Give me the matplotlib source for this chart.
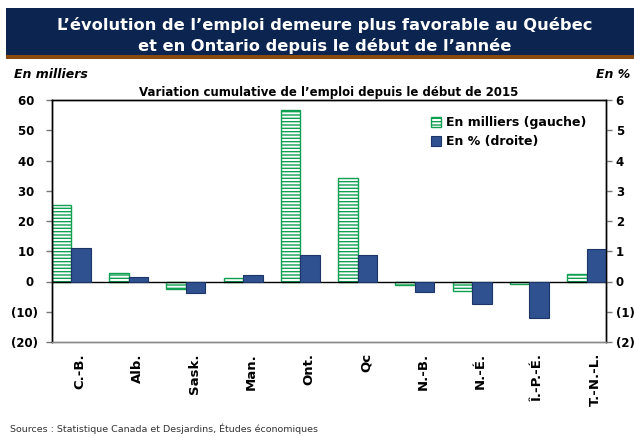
import numpy as np
import matplotlib
matplotlib.use("Agg")
import matplotlib.pyplot as plt
from matplotlib.patches import Rectangle
from matplotlib.ticker import FuncFormatter

plt.rcParams['font.family'] = ['DejaVu Sans']
plt.rcParams['hatch.linewidth'] = 1.0

# data
provinces = ["C.-B.", "Alb.", "Sask.", "Man.", "Ont.", "Qc", "N.-B.", "N.-É.", "Î.-P.-É.", "T.-N.-L."]
milliers = [25.2, 2.7, -2.4, 1.3, 56.8, 34.2, -1.2, -3.1, -0.8, 2.5]
pourcent = [1.12, 0.14, -0.38, 0.20, 0.86, 0.86, -0.34, -0.74, -1.22, 1.06]

green = "#11a052"
navy = "#2f5190"
navy_edge = "#1c3566"

W, H = 634, 436
fig = plt.figure(figsize=(W/100, H/100), dpi=100)

# title banner
fig.patches.append(Rectangle((6/W, 1-55/H), 1, 47/H, transform=fig.transFigure,
                             facecolor="#0c2550", edgecolor="none"))
fig.patches.append(Rectangle((6/W, 1-59/H), 1, 4/H, transform=fig.transFigure,
                             facecolor="#8a4a0e", edgecolor="none"))
fig.text(325/W, 1-30/H, "L’évolution de l’emploi demeure plus favorable au Québec",
         color="white", fontsize=11.7, fontweight="bold", ha="center", va="baseline")
fig.text(325/W, 1-51/H, "et en Ontario depuis le début de l’année",
         color="white", fontsize=11.7, fontweight="bold", ha="center", va="baseline")

fig.text(14/W, 1-78/H, "En milliers", fontsize=9, fontweight="bold", style="italic",
         ha="left", va="baseline")
fig.text(630/W, 1-78/H, "En %", fontsize=9, fontweight="bold", style="italic",
         ha="right", va="baseline")
fig.text(10/W, 2/H, "Sources : Statistique Canada et Desjardins, Études économiques",
         fontsize=6.8, ha="left", va="bottom", color="#333333")

ax = fig.add_axes([52/W, 1-342/H, 554/W, 242/H])
ax2 = ax.twinx()

w = 0.34
x = np.arange(len(provinces))
ax.bar(x - w/2, milliers, w, facecolor="white", edgecolor=green, hatch="-----",
       linewidth=1.0, label="En milliers (gauche)", zorder=2)
ax2.bar(x + w/2, pourcent, w, facecolor=navy, edgecolor=navy_edge, linewidth=0.8,
        label="En % (droite)", zorder=2)

ax.set_xlim(-w, len(provinces) - 1 + w)
ax.set_ylim(-20, 60)
ax2.set_ylim(-2, 6)
ax.set_yticks(np.arange(-20, 61, 10))
ax2.set_yticks(np.arange(-2, 7, 1))

ax.yaxis.set_major_formatter(FuncFormatter(
    lambda v, p: "({:d})".format(int(round(-v))) if v < 0 else "{:d} ".format(int(round(v)))))
ax2.yaxis.set_major_formatter(FuncFormatter(
    lambda v, p: "({:d})".format(int(round(-v))) if v < 0 else "{:d}".format(int(round(v)))))

ax.axhline(0, color="black", linewidth=1.0, zorder=3)

ax.set_xticks(x + 0.15)
ax.set_xticklabels(provinces, rotation=90, fontsize=9.5, fontweight="bold")
ax.tick_params(axis="x", length=0, pad=8)

for a in (ax, ax2):
    a.tick_params(axis="y", labelsize=8.5, length=4, width=1, color="#777777", direction="out")
    for lbl in a.get_yticklabels():
        lbl.set_fontweight("bold")
    for s in a.spines.values():
        s.set_color("black")
        s.set_linewidth(1.0)
ax.spines["bottom"].set_color("#888888")
ax2.spines["bottom"].set_color("#888888")
ax.tick_params(axis="y", pad=6)
ax2.tick_params(axis="y", pad=3)

ax.set_title("Variation cumulative de l’emploi depuis le début de 2015",
             fontsize=8.5, fontweight="bold", pad=3)

h1, l1 = ax.get_legend_handles_labels()
h2, l2 = ax2.get_legend_handles_labels()
leg = ax2.legend(h1 + h2, l1 + l2, loc="upper right", bbox_to_anchor=(0.985, 0.98),
                 frameon=False, prop={"weight": "bold", "size": 9},
                 handlelength=0.8, handleheight=0.8, handletextpad=0.4, labelspacing=0.5)

fig.savefig("out.png", dpi=100)
